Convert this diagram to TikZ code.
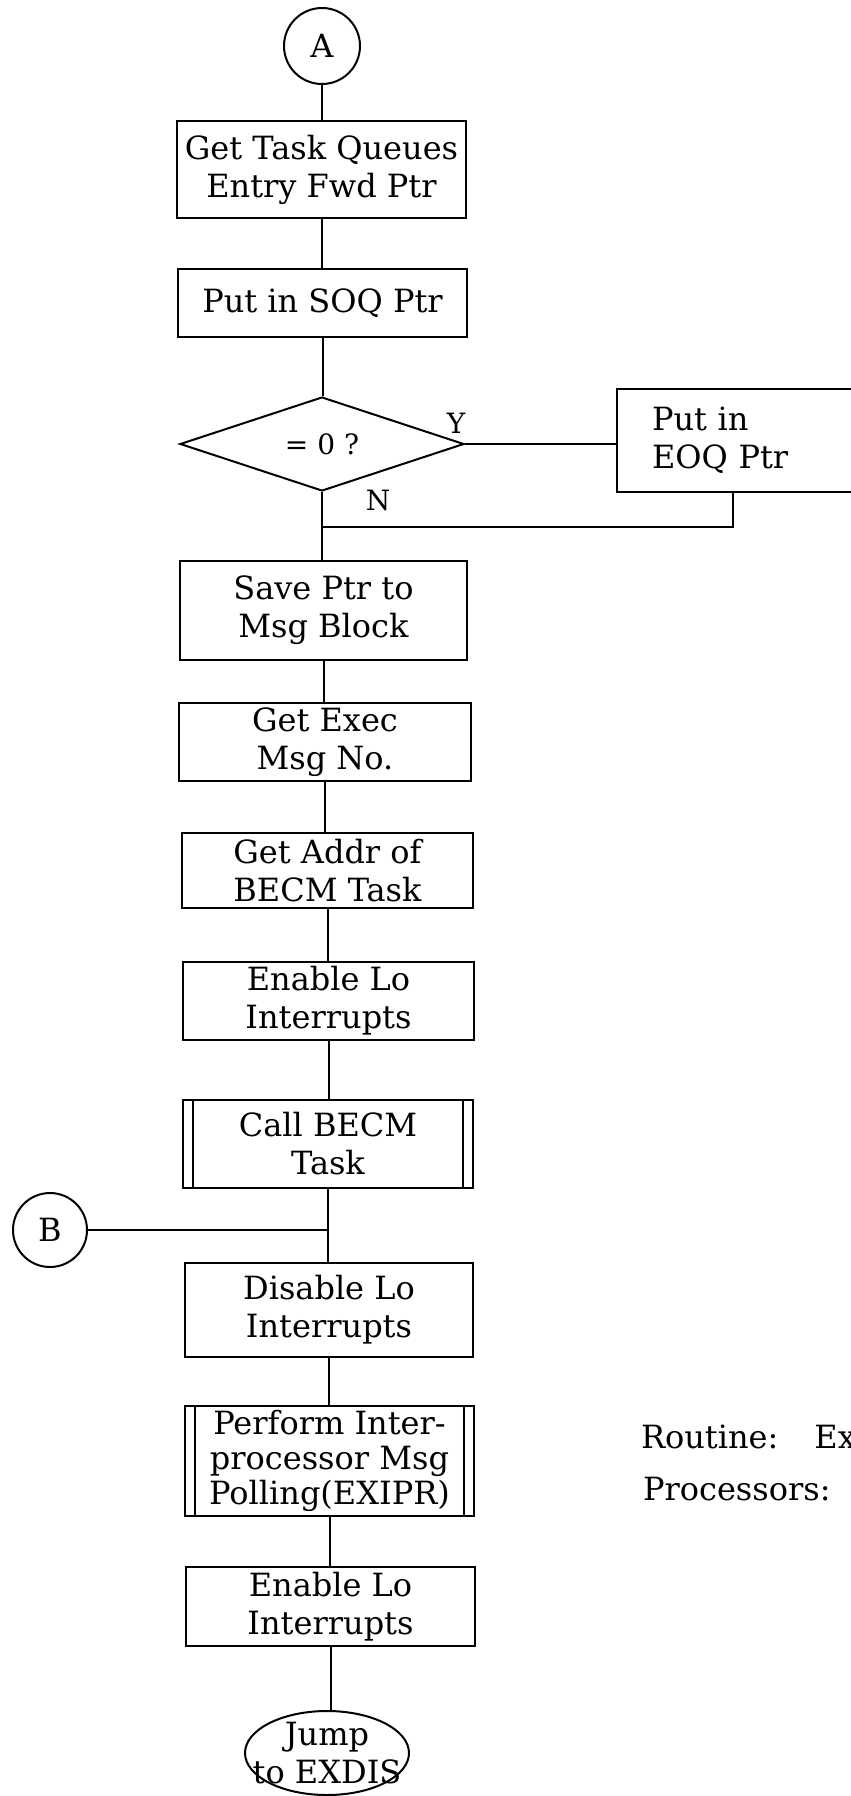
\documentclass[tikz,border=0pt]{standalone}
\usepackage{fontspec}
\setmainfont{DejaVu Serif}
\usetikzlibrary{positioning,shapes.geometric}

\begin{document}
\begin{tikzpicture}[x=1pt,y=-1pt,line width=2pt,
  font=\fontsize{32}{38}\selectfont,
  box/.style={draw,rectangle,align=center,inner sep=0pt,minimum width=289pt},
  subbox/.style={box,path picture={
    \draw ([xshift=10pt]path picture bounding box.north west) -- ([xshift=10pt]path picture bounding box.south west);
    \draw ([xshift=-10pt]path picture bounding box.north east) -- ([xshift=-10pt]path picture bounding box.south east);}},
  conn/.style={draw,circle,minimum size=76pt,inner sep=0pt},
  small/.style={font=\fontsize{28}{32}\selectfont,inner sep=0pt}]
\useasboundingbox (0,0) rectangle (851,1796);
\node[conn,text depth=-14pt] (A) at (322,46) {A};
\node[box,minimum height=97pt] (getq) at (321.5,169.5) {Get Task Queues\\Entry Fwd Ptr};
\node[box,minimum height=68pt] (soq) at (322.5,303) {Put in SOQ Ptr};
\node[draw,diamond,aspect=3,minimum width=284pt,minimum height=94pt,inner sep=0pt,small] (zero) at (322,444) {= 0 ?};
\node[small] (yes) at (456,423) {Y};
\node[small] (no) at (378,500) {N};
\node[box,anchor=west,minimum width=254pt,minimum height=103pt,text width=184pt,align=left,inner xsep=35pt] (eoq) at (616,440.5) {Put in\\EOQ Ptr};
\coordinate (ret) at (733,527);
\coordinate (join) at (322,527);
\node[box,minimum width=287pt,minimum height=99pt] (save) at (323.5,610.5) {Save Ptr to\\Msg Block};
\node[box,minimum width=292pt,minimum height=78pt] (exec) at (325,742) {Get Exec\\Msg No.};
\node[box,minimum width=291pt,minimum height=75pt] (addr) at (327.5,870.5) {Get Addr of\\BECM Task};
\node[box,minimum width=291pt,minimum height=78pt] (enable) at (328.5,1001) {Enable Lo\\Interrupts};
\node[subbox,minimum width=290pt,minimum height=88pt] (call) at (328,1144) {Call BECM\\Task};
\node[conn,minimum size=74pt] (B) at (50,1230) {B};
\node[box,minimum width=288pt,minimum height=94pt] (disable) at (329,1310) {Disable Lo\\Interrupts};
\node[subbox,minimum height=110pt,font=\fontsize{32}{35}\selectfont] (poll) at (329.5,1461) {Perform Inter-\\processor Msg\\Polling(EXIPR)};
\node[box,minimum height=79pt] (enable2) at (330.5,1606.5) {Enable Lo\\Interrupts};
\node[draw,ellipse,minimum width=164pt,minimum height=84pt,inner sep=0pt,
  label={[align=center,inner sep=0pt]center:Jump\\to EXDIS}] (exdis) at (327,1753) {};
\node[anchor=west,inner sep=0pt] (routine) at (640,1437) {Routine:\hspace{36pt}Exe};
\node[anchor=west,inner sep=0pt] (procs) at (642,1489) {Processors:};
\draw (A.south) -- (A.south |- getq.north);
\draw (getq.south) -- (getq.south |- soq.north);
\draw (soq.south) -- (soq.south |- zero.north);
\draw (zero.east) -- (zero.east -| eoq.west);
\draw (eoq.south -| ret) -- (ret) -- (join);
\draw (zero.south) -- (zero.south |- save.north);
\draw (save.south) -- (save.south |- exec.north);
\draw (exec.south) -- (exec.south |- addr.north);
\draw (addr.south) -- (addr.south |- enable.north);
\draw (enable.south) -- (enable.south |- call.north);
\draw (call.south) -- (call.south |- disable.north);
\draw (B.east) -- (B.east -| call.south);
\draw (disable.south) -- (disable.south |- poll.north);
\draw (poll.south) -- (poll.south |- enable2.north);
\draw (enable2.south) -- (enable2.south |- exdis.north);
\end{tikzpicture}
\end{document}
